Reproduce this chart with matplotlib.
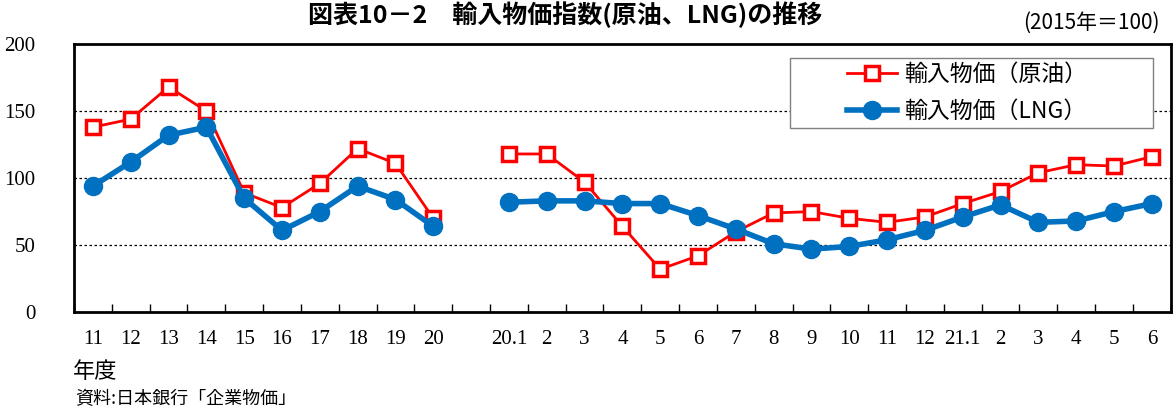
import matplotlib.pyplot as plt
import numpy as np
from matplotlib.ticker import FixedLocator
from matplotlib.patches import Rectangle

plt.rcParams['font.family'] = ['Noto Sans CJK JP', 'DejaVu Sans']

labels = ['11', '12', '13', '14', '15', '16', '17', '18', '19', '20', '',
          '20.1', '2', '3', '4', '5', '6', '7', '8', '9', '10', '11', '12',
          '21.1', '2', '3', '4', '5', '6']
crude = [138, 144, 168, 150, 89, 78, 96, 122, 111, 70, np.nan,
         118, 118, 97, 64, 32, 42, 60, 74, 75, 70, 67, 71,
         81, 90, 104, 110, 109, 116]
lng = [94, 112, 132, 138, 85, 61, 75, 94, 84, 64, np.nan,
       82, 83, 83, 81, 81, 72, 62, 51, 47, 49, 54, 61,
       71, 80, 67, 68, 75, 81]

x = np.arange(len(labels))

fig = plt.figure(figsize=(11.73, 4.08), dpi=100)
ax = fig.add_axes([0.0631, 0.235, 0.935, 0.657])

ax.plot(x, crude, color='#FF0000', lw=2, marker='s', ms=10, mfc='white',
        mec='#FF0000', mew=2.5, label='輸入物価（原油）', zorder=3)
ax.plot(x, lng, color='#0070C0', lw=4, marker='o', ms=13, mfc='#0070C0',
        mec='#0070C0', label='輸入物価（LNG）', zorder=4)

ax.set_xlim(-0.5, len(labels) - 0.5)
ax.set_ylim(0, 200)
ax.set_yticks([0, 50, 100, 150, 200])
ax.set_yticklabels(['0', '50', '100', '150', '200'], family='Liberation Serif', fontsize=15)
ax.tick_params(axis='y', length=0, pad=28)

ax.set_xticks(x)
ax.set_xticklabels(labels, family='Liberation Serif', fontsize=15)
ax.tick_params(axis='x', which='major', length=0, pad=13)
ax.xaxis.set_minor_locator(FixedLocator(np.arange(-0.5, len(labels), 1)))
ax.tick_params(axis='x', which='minor', direction='in', length=6, width=1)

for v in [50, 100, 150]:
    ax.axhline(v, color='black', lw=0.9, ls=(0, (2, 2)), zorder=1)

for s in ax.spines.values():
    s.set_linewidth(2)

# legend box drawn separately (wide padding like the original)
ax.add_patch(Rectangle((0.6527, 0.6866), 0.331, 0.261, transform=ax.transAxes,
                       facecolor='white', edgecolor='#808080', lw=1, zorder=5))
leg = ax.legend(loc='upper left', bbox_to_anchor=(0.7047, 0.93), fontsize=16.5,
                frameon=False, borderpad=0, borderaxespad=0,
                handlelength=2.2, handletextpad=0.3, labelspacing=0.6)
leg.set_zorder(6)

fig.text(0.482, 0.965, '図表10－2　輸入物価指数(原油、LNG)の推移', ha='center',
         va='center', fontsize=18, fontweight='bold')
fig.text(0.989, 0.943, '(2015年＝100)', ha='right', va='center', fontsize=15)
fig.text(0.062, 0.09, '年度', ha='left', va='center', fontsize=16)
fig.text(0.064, 0.022, '資料:日本銀行「企業物価」', ha='left', va='center', fontsize=13)

fig.savefig('out.png', dpi=100)
